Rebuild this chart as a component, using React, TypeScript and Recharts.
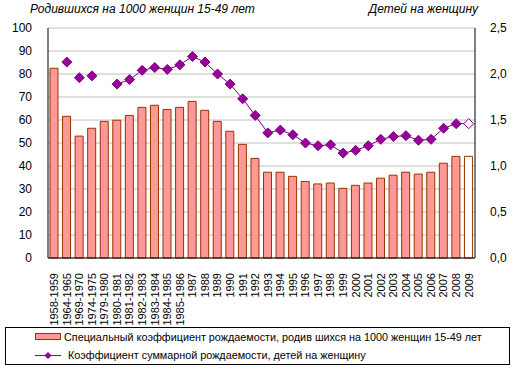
import React from 'react';
import { ComposedChart, Bar, Line, XAxis, YAxis, CartesianGrid, Cell, Legend } from 'recharts';

const categories = [
  '1958-1959', '1964-1965', '1969-1970', '1974-1975', '1979-1980', '1980-1981',
  '1981-1982', '1982-1983', '1983-1984', '1984-1985', '1985-1986',
  '1987', '1988', '1989', '1990', '1991', '1992', '1993', '1994', '1995', '1996',
  '1997', '1998', '1999', '2000', '2001', '2002', '2003', '2004', '2005', '2006',
  '2007', '2008', '2009',
];

// Births per 1000 women aged 15-49
const birthRate = [
  82.5, 61.6, 53.0, 56.4, 59.4, 59.9, 62.0, 65.5, 66.4, 64.6, 65.5,
  68.1, 64.2, 59.4, 55.1, 49.4, 43.3, 37.3, 37.3, 35.5, 33.3,
  32.2, 32.6, 30.3, 31.6, 32.6, 34.7, 36.0, 37.3, 36.5, 37.3,
  41.2, 44.2, 44.2,
];

// Total fertility rate, children per woman
const tfr: (number | null)[] = [
  null, 2.13, 1.96, 1.98, null, 1.89, 1.94, 2.04, 2.07, 2.05, 2.10,
  2.19, 2.13, 2.00, 1.89, 1.73, 1.55, 1.36, 1.39, 1.34, 1.25,
  1.22, 1.23, 1.14, 1.17, 1.22, 1.29, 1.32, 1.33, 1.28, 1.29,
  1.41, 1.46, 1.46,
];

const leftTicks = [0, 10, 20, 30, 40, 50, 60, 70, 80, 90, 100];
const rightTicks = [0, 0.5, 1, 1.5, 2, 2.5];

const leftTitle = 'Родившихся на 1000 женщин 15-49 лет';
const rightTitle = 'Детей на женщину';
const barLegend = 'Специальный коэффициент рождаемости, родив шихся на 1000 женщин 15-49 лет';
const lineLegend = 'Коэффициент суммарной рождаемости, детей на женщину';

const connectedFrom = '1980-1981';
const preliminary = '2009';

const FONT = '"Liberation Sans", Arial, sans-serif';
const BAR_FILL = '#FF9999';
const BAR_STROKE = '#993300';
const LINE_STROKE = '#800080';
const DOT_FILL = '#990099';

const startIdx = categories.indexOf(connectedFrom);
const data = categories.map((c, i) => ({
  category: c,
  birthRate: birthRate[i],
  tfrIsolated: i < startIdx ? tfr[i] : null,
  tfrConnected: i >= startIdx ? tfr[i] : null,
}));

const Diamond = (props: any) => {
  const { cx, cy, payload } = props;
  if (cx == null || cy == null || payload == null) return null;
  const v = payload.tfrIsolated ?? payload.tfrConnected;
  if (v == null) return null;
  const r = 5;
  const hollow = payload.category === preliminary;
  return (
    <polygon
      points={`${cx},${cy - r} ${cx + r},${cy} ${cx},${cy + r} ${cx - r},${cy}`}
      fill={hollow ? '#FFFFFF' : DOT_FILL}
      stroke={LINE_STROKE}
      strokeWidth={1}
    />
  );
};

const XTick = (props: any) => {
  const { x, y, payload } = props;
  return (
    <text
      x={x}
      y={y}
      transform={`rotate(-90 ${x} ${y})`}
      textAnchor="end"
      dy="0.35em"
      fontSize={11}
      fontFamily={FONT}
      fill="#000"
    >
      {payload.value}
    </text>
  );
};

const LegendBox = () => (
  <div
    style={{
      width: 503,
      height: 36,
      border: '1px solid #000',
      background: '#fff',
      fontFamily: FONT,
      fontSize: 10.8,
      color: '#000',
      position: 'relative',
      boxSizing: 'content-box',
    }}
  >
    <svg width={30} height={36} style={{ position: 'absolute', left: 28, top: 0 }}>
      <rect x={1.5} y={5.5} width={25} height={6} fill={BAR_FILL} stroke={BAR_STROKE} strokeWidth={1} />
      <line x1={1} y1={27.5} x2={27} y2={27.5} stroke={LINE_STROKE} strokeWidth={1} />
      <polygon points="14,24.5 17,27.5 14,30.5 11,27.5" fill={DOT_FILL} stroke={LINE_STROKE} />
    </svg>
    <div style={{ position: 'absolute', left: 58, top: 1, lineHeight: '16px', whiteSpace: 'nowrap' }}>{barLegend}</div>
    <div style={{ position: 'absolute', left: 62, top: 19, lineHeight: '16px', whiteSpace: 'nowrap' }}>{lineLegend}</div>
  </div>
);

export default function App() {
  return (
    <div style={{ position: 'absolute', left: 0, top: 0, width: 515, height: 373, background: '#fff' }}>
      <div
        style={{
          position: 'absolute', left: 30, top: 2, fontFamily: FONT, fontSize: 12,
          fontStyle: 'italic', whiteSpace: 'nowrap', color: '#000', lineHeight: '14px',
        }}
      >
        {leftTitle}
      </div>
      <div
        style={{
          position: 'absolute', right: 37, top: 2, fontFamily: FONT, fontSize: 12,
          fontStyle: 'italic', whiteSpace: 'nowrap', color: '#000', lineHeight: '14px',
        }}
      >
        {rightTitle}
      </div>
      <ComposedChart
        width={515}
        height={373}
        data={data}
        margin={{ top: 28, right: 0, bottom: 0, left: 0 }}
        style={{ position: 'absolute', left: 0, top: 0 }}
      >
        <CartesianGrid yAxisId="left" vertical={false} stroke="#C0C0C0" strokeWidth={1} />
        <XAxis
          dataKey="category"
          interval={0}
          height={115}
          tickLine={false}
          tickMargin={9}
          axisLine={{ stroke: '#000', strokeWidth: 1 }}
          tick={<XTick />}
        />
        <YAxis
          yAxisId="left"
          orientation="left"
          width={48}
          domain={[0, 100]}
          ticks={leftTicks}
          interval={0}
          tickLine={false}
          tickMargin={10}
          axisLine={{ stroke: '#000', strokeWidth: 1 }}
          tick={{ fontSize: 12, fontFamily: FONT, fill: '#000' }}
        />
        <YAxis
          yAxisId="right"
          orientation="right"
          width={40}
          domain={[0, 2.5]}
          ticks={rightTicks}
          interval={0}
          tickLine={false}
          tickMargin={9}
          tickFormatter={(v: number) => v.toFixed(1).replace('.', ',')}
          axisLine={{ stroke: '#000', strokeWidth: 1 }}
          tick={{ fontSize: 12, fontFamily: FONT, fill: '#000' }}
        />
        <Bar
          yAxisId="left"
          dataKey="birthRate"
          barSize={8}
          fill={BAR_FILL}
          stroke={BAR_STROKE}
          strokeWidth={1}
          isAnimationActive={false}
        >
          {data.map((d) => (
            <Cell key={d.category} fill={d.category === preliminary ? '#FFFFFF' : BAR_FILL} />
          ))}
        </Bar>
        <Line
          yAxisId="right"
          dataKey="tfrIsolated"
          stroke="none"
          dot={<Diamond />}
          activeDot={false}
          isAnimationActive={false}
        />
        <Line
          yAxisId="right"
          dataKey="tfrConnected"
          stroke={LINE_STROKE}
          strokeWidth={1}
          dot={<Diamond />}
          activeDot={false}
          isAnimationActive={false}
        />
        <Legend
          layout="horizontal"
          verticalAlign="middle"
          align="center"
          content={() => <LegendBox />}
          wrapperStyle={{ position: 'absolute', left: 5, top: 327, width: 505, height: 38 }}
        />
      </ComposedChart>
    </div>
  );
}
